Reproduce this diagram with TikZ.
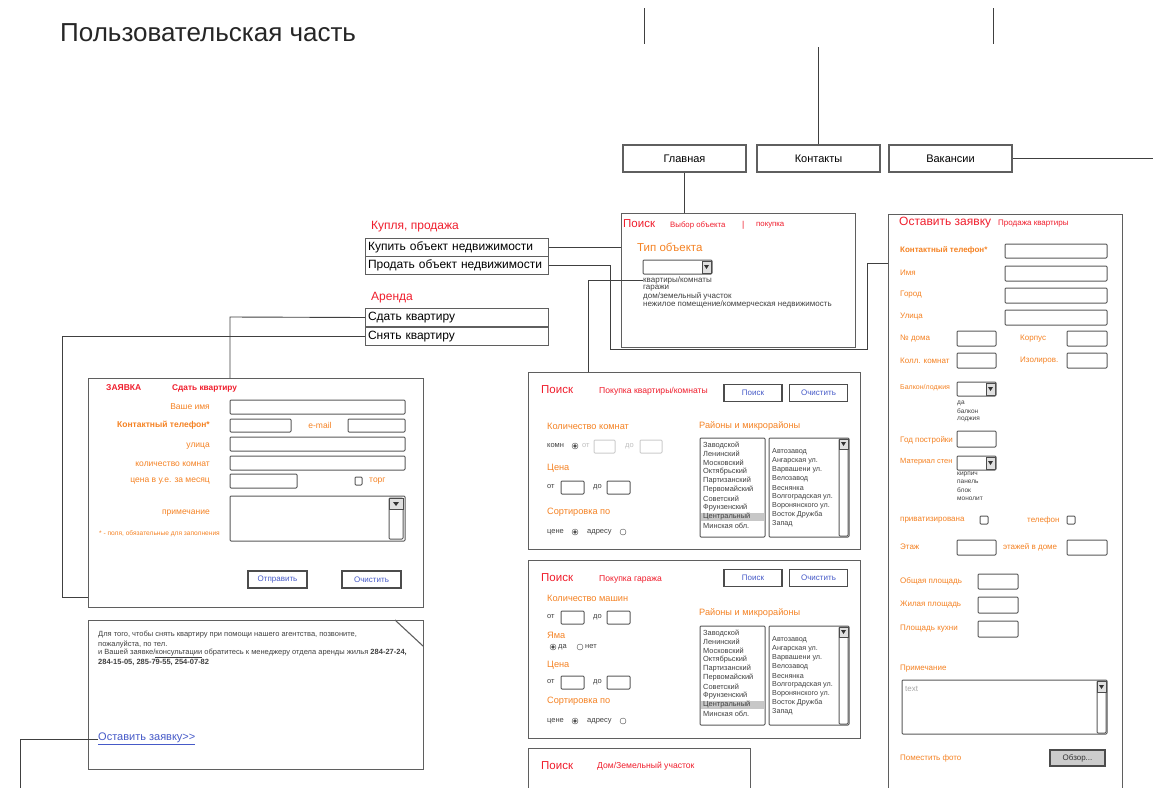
\documentclass[tikz,border=0pt]{standalone}
\usepackage{fontspec}
\setmainfont{Liberation Sans}[Ligatures=TeXOff]
\definecolor{wred}{RGB}{240,30,45}
\definecolor{worange}{RGB}{245,130,35}
\definecolor{wblue}{RGB}{70,90,200}
\definecolor{wline}{RGB}{95,95,95}

\begin{document}
\begin{tikzpicture}[x=1pt,y=-1pt]
	\tikzstyle{every node}+=[inner sep=0pt]
	\tikzstyle{panel}=[draw=wline, line width=1.1pt, anchor=north west]
	\tikzstyle{tab}=[draw=wline, line width=1.1pt, minimum width=123pt, minimum height=27pt, font=\fontsize{11}{13}\selectfont]
	\tikzstyle{menuitem}=[draw=wline, line width=1pt, anchor=north west, text width=178pt, inner xsep=2.5pt, minimum height=18pt, font=\fontsize{12}{14}\selectfont]
	\tikzstyle{wire}=[draw=black!75, line width=0.9pt]
	\tikzstyle{fld}=[draw=black!65, line width=1pt, rounded corners=1pt]
	\tikzstyle{lbl}=[anchor=west, text=worange, font=\fontsize{8}{9}\selectfont]
	\tikzstyle{rlbl}=[anchor=east, text=worange, font=\fontsize{8.5}{10}\selectfont]
	\tikzstyle{sect}=[anchor=west, text=worange, font=\fontsize{9.2}{11}\selectfont]
	\tikzstyle{hdr}=[anchor=west, text=wred, font=\fontsize{11.5}{13}\selectfont]
	\tikzstyle{sub}=[anchor=west, text=wred, font=\fontsize{8.6}{10}\selectfont]
	\tikzstyle{sm}=[anchor=west, text=black!75, font=\fontsize{7.5}{8}\selectfont]
	\tikzstyle{btn}=[draw=black!70, line width=1.2pt, minimum width=58pt, minimum height=17pt, text=wblue, font=\fontsize{8}{9}\selectfont]
	\useasboundingbox (0,0) rectangle (1153,787);
	\clip (0,0) rectangle (1153,787);
	\fill [white] (0,0) rectangle (1153,787);

	\node [anchor=west, text=black!85, font=\fontsize{26}{30}\selectfont] (title) at (60,33) {Пользовательская часть};

	\node [tab] (glav) at (684.5,158.5) {Главная};
	\node [tab] (kont) at (818.5,158.5) {Контакты};
	\node [tab] (vak) at (950.5,158.5) {Вакансии};
	\coordinate (t1) at (644,8);
	\coordinate (t2) at (993,8);
	\coordinate (kt) at (819,47);
	\coordinate (ve) at (1153,158);
	\draw [wire] (t1) -- ++(0,36);
	\draw [wire] (t2) -- ++(0,36);
	\draw [wire] (kont.north) -- (kont.north |- kt);
	\draw [wire] (vak.east) -- (vak.east -| ve);

	\node [panel, minimum width=234pt, minimum height=134pt] (poisk) at (621,213) {};
	\node [panel, minimum width=234pt, minimum height=600pt] (form) at (888,214) {};
	\node [panel, minimum width=335pt, minimum height=229pt] (zayav) at (88,378) {};
	\node [panel, minimum width=335pt, minimum height=149pt] (info) at (88,620) {};
	\node [panel, minimum width=332pt, minimum height=177pt] (srch1) at (528,372) {};
	\node [panel, minimum width=332pt, minimum height=178pt] (srch2) at (528,560) {};
	\node [panel, minimum width=222pt, minimum height=100pt] (srch3) at (528,748) {};

	\node [anchor=west, text=wred, font=\fontsize{12}{14}\selectfont] (kupl) at (371,227) {Купля, продажа};
	\node [menuitem] (kup) at (365,238) {Купить объект недвижимости};
	\node [menuitem] (prod) at (365,256) {Продать объект недвижимости};
	\node [anchor=west, text=wred, font=\fontsize{12}{14}\selectfont] (arenda) at (371,298) {Аренда};
	\node [menuitem] (sdat) at (365,308) {Сдать квартиру};
	\node [menuitem] (snyat) at (365,327) {Снять квартиру};

	% Поиск: выбор объекта
	\node [hdr] (pz) at (623,224) {Поиск};
	\node [sub, font=\fontsize{7.8}{9}\selectfont] (vybor) at (670,225) {Выбор объекта};
	\node [sub] (vl) at (742,225) {|};
	\node [sub, font=\fontsize{7.8}{9}\selectfont] (pokup) at (756,225) {покупка};
	\node [anchor=west, text=worange, font=\fontsize{11.5}{13}\selectfont] (tip) at (637,247) {Тип объекта};
	\draw [fld] (643,260) rectangle (712,274);
	\node [sm, font=\fontsize{8}{9}\selectfont] (kv) at (643,280) {квартиры/комнаты};
	\node [sm, font=\fontsize{8}{9}\selectfont] (gar) at (643,288) {гаражи};
	\node [sm, font=\fontsize{8}{9}\selectfont] (dom) at (643,296) {дом/земельный участок};
	\node [sm, font=\fontsize{8}{9}\selectfont] (nezh) at (643,304) {нежилое помещение/коммерческая недвижимость};

	\coordinate (p1) at (610,349);
	\coordinate (p2) at (867,263);
	\coordinate (p3) at (588,280);
	\coordinate (p4) at (230,317);
	\coordinate (p5) at (62,597);
	\coordinate (p6) at (20,790);
	\draw [wire] (glav.south) -- (glav.south |- poisk.north);
	\draw [wire] (kup.east) -- (kup.east -| poisk.west);
	\draw [wire] (prod.east) -| (p1) -| (p2) -- (p2 -| form.west);
	\draw [wire] (kv.west) -- (p3) -- (p3 |- srch1.north);
	\draw [wire] (sdat.west) -- (p4) -- (p4 |- zayav.north);
	\draw [wire] (snyat.west) -| (p5) -- (p5 -| zayav.west);

	% кнопки списков
	\foreach \x/\y in {702/261, 986/383, 986/457} {
		\draw [fill=black!12, draw=black!70] (\x,\y) rectangle ++(9,12);
		\fill [black!80] (\x+2,\y+4) -- ++(5,0) -- ++(-2.5,4) -- cycle;
	}

	% Оставить заявку
	\node [hdr, font=\fontsize{12}{14}\selectfont] (ozay) at (899,223) {Оставить заявку};
	\node [sub, font=\fontsize{8}{9}\selectfont] (prodkv) at (998,224) {Продажа квартиры};
	\foreach \a/\b/\c/\d in {1005/244/1107/258, 1005/266/1107/281, 1005/288/1107/303, 1005/310/1107/325,
		957/331/996/346, 1067/331/1107/346, 957/353/996/368, 1067/353/1107/368, 957/382/996/396,
		957/431/996/447, 957/456/996/470, 980/516/988/524, 1067/516/1075/524, 957/540/996/555,
		1067/540/1107/555, 978/574/1018/589, 978/597/1018/613, 978/621/1018/637, 902/680/1107/734, 1097/681/1106/733}
		\draw [fld] (\a,\b) rectangle (\c,\d);
	\draw [fill=black!12, draw=black!70] (1097,681) rectangle (1106,692);
	\fill [black!80] (1099,685) -- ++(5,0) -- ++(-2.5,4) -- cycle;
	\node [lbl, font=\bfseries\fontsize{8}{9}\selectfont] (ftel) at (900,250) {Контактный телефон*};
	\node [lbl] (fname) at (900,273) {Имя};
	\node [lbl] (fcity) at (900,295) {Город};
	\node [lbl] (fstr) at (900,317) {Улица};
	\node [lbl] (fdom) at (900,339) {№ дома};
	\node [lbl] (fkorp) at (1020,339) {Корпус};
	\node [lbl] (fkom) at (900,361) {Колл. комнат};
	\node [lbl] (fizol) at (1020,361) {Изолиров.};
	\node [lbl, font=\fontsize{7}{8}\selectfont] (fbalk) at (900,388) {Балкон/лоджия};
	\node [sm, font=\fontsize{6.5}{7}\selectfont] (bl1) at (957,403) {да};
	\node [sm, font=\fontsize{6.5}{7}\selectfont] (bl2) at (957,411) {балкон};
	\node [sm, font=\fontsize{6.5}{7}\selectfont] (bl3) at (957,419) {лоджия};
	\node [lbl] (fgod) at (900,440) {Год постройки};
	\node [lbl, font=\fontsize{7.5}{8}\selectfont] (fmat) at (900,462) {Материал стен};
	\node [sm, font=\fontsize{6.5}{7}\selectfont] (m1) at (957,474) {кирпич};
	\node [sm, font=\fontsize{6.5}{7}\selectfont] (m2) at (957,482) {панель};
	\node [sm, font=\fontsize{6.5}{7}\selectfont] (m3) at (957,490) {блок};
	\node [sm, font=\fontsize{6.5}{7}\selectfont] (m4) at (957,499) {монолит};
	\node [lbl] (fpriv) at (900,520) {приватизирована};
	\node [lbl] (ftelef) at (1027,520) {телефон};
	\node [lbl] (fetazh) at (900,547) {Этаж};
	\node [lbl] (fetazhd) at (1003,547) {этажей в доме};
	\node [lbl] (fobsh) at (900,581) {Общая площадь};
	\node [lbl] (fzhil) at (900,605) {Жилая площадь};
	\node [lbl] (fkuh) at (900,629) {Площадь кухни};
	\node [lbl] (fprim) at (900,669) {Примечание};
	\node [sm, text=black!35, font=\fontsize{8}{9}\selectfont] (ftext) at (905,689) {text};
	\node [lbl] (ffoto) at (900,758) {Поместить фото};
	\node [btn, fill=black!20, text=black!80, minimum width=55pt, minimum height=16pt] (obzor) at (1077.5,758) {Обзор...};

	% Заявка: сдать квартиру
	\node [anchor=west, text=wred, font=\bfseries\fontsize{8.5}{10}\selectfont] (zt) at (106,388) {ЗАЯВКА};
	\node [anchor=west, text=wred, font=\bfseries\fontsize{8.3}{10}\selectfont] (zs) at (172,388) {Сдать квартиру};
	\node [rlbl] (zname) at (210,407) {Ваше имя};
	\node [rlbl, font=\bfseries\fontsize{8.5}{10}\selectfont] (ztel) at (210,425) {Контактный телефон*};
	\node [anchor=center, text=worange, font=\fontsize{8.5}{10}\selectfont] (zmail) at (320,425) {e-mail};
	\node [rlbl] (zstr) at (210,446) {улица};
	\node [rlbl] (zkom) at (210,464) {количество комнат};
	\node [rlbl] (zcena) at (210,481) {цена в у.е. за месяц};
	\node [lbl, font=\fontsize{8.5}{10}\selectfont] (ztorg) at (369,481) {торг};
	\node [rlbl] (zprim) at (210,513) {примечание};
	\node [lbl, font=\fontsize{6.6}{8}\selectfont] (zpole) at (99,534) {* - поля, обязательные для заполнения};
	\foreach \a/\b/\c/\d in {230/400/405/414, 230/419/291/432, 348/419/405/432, 230/437/405/451, 230/456/405/470,
		230/474/297/488, 355/477/362/485, 230/496/405/541, 389/498/403/539}
		\draw [fld] (\a,\b) rectangle (\c,\d);
	\draw [fill=black!12, draw=black!70] (389,498) rectangle (403,509);
	\fill [black!80] (393,502) -- ++(6,0) -- ++(-3,4) -- cycle;
	\node [btn, minimum width=59pt] (otpr) at (277.5,579.5) {Отправить};
	\node [btn, minimum width=59pt] (ochz) at (371.5,579.5) {Очистить};

	% текст
	\draw [wline, line width=1.1pt] (395,620) -- (423,646);
	\node [sm] (i1) at (98,635) {Для того, чтобы снять квартиру при помощи нашего агентства, позвоните,};
	\node [sm] (i2) at (98,644) {пожалуйста, по тел.};
	\node [sm] (i3) at (98,653) {и Вашей заявке/\underline{консультации} обратитесь к менеджеру отдела аренды жилья \textbf{284-27-24,}};
	\node [sm, font=\bfseries\fontsize{7.5}{8}\selectfont] (i4) at (98,662) {284-15-05, 285-79-55, 254-07-82};
	\node [anchor=west, text=wblue, font=\fontsize{11}{13}\selectfont] (ostav) at (98,739) {\underline{Оставить заявку>>}};
	\draw [wire] (ostav.west) -| (p6);

	% Поиск: квартиры, гаражи
	\node [hdr] (s1) at (541,390) {Поиск};
	\node [sub] (s1t) at (599,391) {Покупка квартиры/комнаты};
	\node [hdr] (s2) at (541,578) {Поиск};
	\node [sub] (s2t) at (599,579) {Покупка гаража};
	\node [hdr] (s3) at (541,766) {Поиск};
	\node [sub] (s3t) at (597,766) {Дом/Земельный участок};
	\foreach \by in {393, 578} {
		\node [btn] (bp\by) at (753,\by) {Поиск};
		\node [btn] (bo\by) at (818.5,\by) {Очистить};
		\node [sect] (rn\by) at (699,{\by==393 ? 426 : 613}) {Районы и микрорайоны};
	}
	\node [sect] (kk) at (547,426) {Количество комнат};
	\node [sm] (komn) at (547,446) {комн};
	\node [sm, text=black!25] (ot0) at (582,446) {от};
	\node [sm, text=black!25] (do0) at (625,446) {до};
	\draw [fld, draw=black!20] (594,440) rectangle (615,453);
	\draw [fld, draw=black!20] (640,440) rectangle (662,453);
	\node [sect] (cena1) at (547,468) {Цена};
	\node [sect] (sort1) at (547,512) {Сортировка по};
	\node [sect] (km) at (547,598) {Количество машин};
	\node [sect] (yama) at (547,635) {Яма};
	\node [sm] (yda) at (558,647) {да};
	\node [sm] (ynet) at (585,647) {нет};
	\node [sect] (cena2) at (547,665) {Цена};
	\node [sect] (sort2) at (547,701) {Сортировка по};
	\foreach \y in {487, 617, 682} {
		\node [sm] (ot\y) at (547,\y) {от};
		\node [sm] (do\y) at (593,\y) {до};
		\draw [fld] (561,\y-6) rectangle (584,\y+7);
		\draw [fld] (607,\y-6) rectangle (630,\y+7);
	}
	\foreach \y in {532, 721} {
		\node [sm] (cen\y) at (547,\y) {цене};
		\node [sm] (adr\y) at (587,\y) {адресу};
		\draw [black!70] (575,\y) circle (3);
		\fill [black!70] (575,\y) circle (1.8);
		\draw [black!70] (623,\y) circle (3);
	}
	\draw [black!70] (575,446) circle (3);
	\fill [black!70] (575,446) circle (1.8);
	\draw [black!70] (553,647) circle (3);
	\fill [black!70] (553,647) circle (1.8);
	\draw [black!70] (580,647) circle (3);

	\foreach \ty in {438, 626} {
		\draw [fld] (700,\ty) rectangle (765,\ty+99);
		\draw [fld] (769,\ty) rectangle (849,\ty+99);
		\draw [fld] (839,\ty+1) rectangle (848,\ty+98);
		\draw [fill=black!12, draw=black!70] (839,\ty+1) rectangle (848,\ty+11);
		\fill [black!80] (841,\ty+4) -- ++(5,0) -- ++(-2.5,4) -- cycle;
		\fill [black!22] (701,\ty+75) rectangle (764,\ty+83);
		\foreach \t [count=\i] in {Заводской, Ленинский, Московский, Октябрьский, Партизанский, Первомайский, Советский, Фрунзенский, Центральный, Минская обл.}
			\node [sm, font=\fontsize{7.4}{8}\selectfont] (ra\ty\i) at (703,{\ty+9*\i-2}) {\t};
		\foreach \t [count=\i] in {Автозавод, Ангарская ул., Варвашени ул., Велозавод, Веснянка, Волгоградская ул., Воронянского ул., Восток Дружба, Запад}
			\node [sm, font=\fontsize{7.2}{8}\selectfont] (rb\ty\i) at (772,{\ty+9*\i+5}) {\t};
	}
\end{tikzpicture}
\end{document}
